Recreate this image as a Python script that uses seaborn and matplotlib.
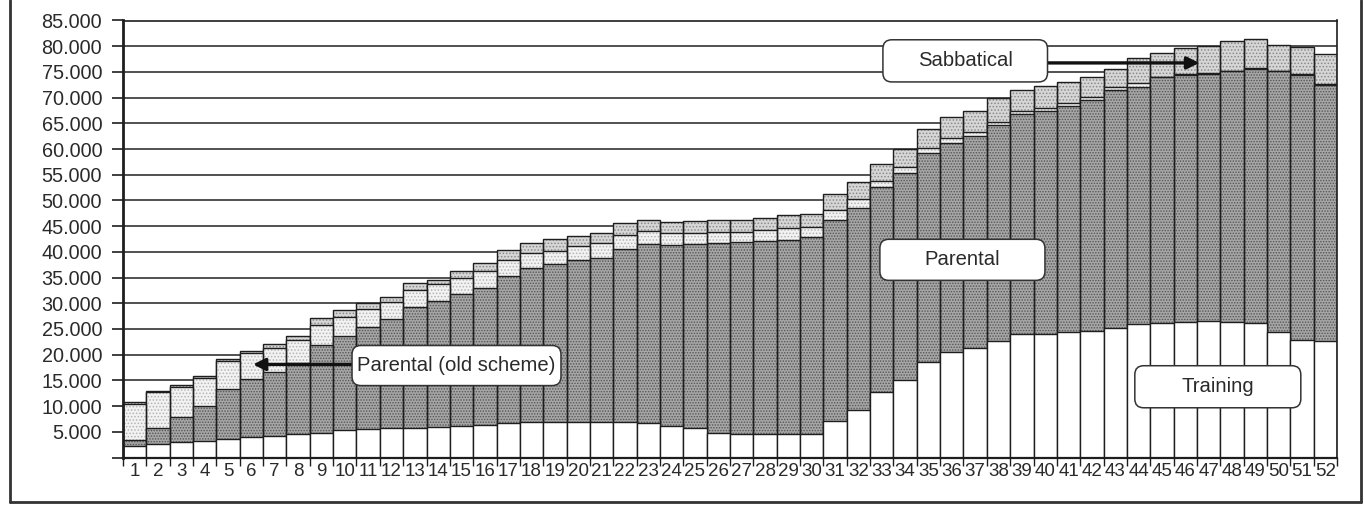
import numpy as np
import pandas as pd
import matplotlib
matplotlib.use("Agg")
import matplotlib.pyplot as plt
import seaborn as sns
from matplotlib.patches import FancyBboxPatch
from matplotlib.lines import Line2D

# Weeks on the x axis
weeks = [str(i) for i in range(1, 53)]

# Leave taken per week, split by scheme (stacked bottom to top)
training = [2200, 2700, 3000, 3250, 3650, 3900, 4150, 4500, 4800, 5300,
            5450, 5800, 5800, 5850, 6200, 6350, 6650, 7000, 7000, 7000,
            7000, 6900, 6650, 6200, 5750, 4850, 4650, 4500, 4650, 4650,
            7150, 9300, 12700, 15000, 18550, 20500, 21350, 22600, 24000, 24000,
            24350, 24650, 25250, 25900, 26200, 26400, 26600, 26400, 26200, 24350,
            22850, 22650]
parental = [1300, 3100, 4900, 6750, 9750, 11400, 12550, 13800, 17100, 18300,
            19850, 21100, 23550, 24650, 25600, 26600, 28700, 29950, 30700, 31450,
            31900, 33700, 34800, 35150, 35800, 36850, 37250, 37600, 37650, 38300,
            39050, 39300, 39850, 40300, 40650, 40750, 41100, 42100, 42800, 43300,
            44100, 44900, 46250, 46250, 47800, 48050, 48050, 48700, 49350, 50750,
            51600, 49850]
parental_old = [7000, 6850, 5850, 5400, 5350, 5100, 4650, 4500, 3800, 3800,
                3600, 3350, 3300, 3200, 3200, 3250, 3150, 2850, 2550, 2650,
                2750, 2600, 2700, 2350, 2150, 2100, 2050, 2150, 2300, 1950,
                1850, 1650, 1250, 1300, 950, 850, 850, 650, 650, 650,
                450, 500, 550, 650, 100, 100, 100, 100, 200, 100,
                100, 100]
sabbatical = [250, 350, 400, 450, 450, 400, 700, 900, 1400, 1200,
              1100, 1050, 1300, 850, 1350, 1600, 1850, 1900, 2200, 1900,
              1950, 2400, 2100, 2150, 2250, 2400, 2250, 2300, 2600, 2500,
              3150, 3300, 3250, 3450, 3700, 4050, 4000, 4550, 4050, 4400,
              4100, 4000, 3550, 4900, 4550, 5100, 5200, 5750, 5650, 4950,
              5200, 5850]

y_ticks = list(range(0, 85001, 5000))
y_tick_labels = [""] + [f"{v // 1000}.000" for v in y_ticks[1:]]

df = pd.DataFrame({
    "week": weeks,
    "training": training,
    "parental": parental,
    "parental_old": parental_old,
    "sabbatical": sabbatical,
})
df["top_training"] = df["training"]
df["top_parental"] = df["top_training"] + df["parental"]
df["top_old"] = df["top_parental"] + df["parental_old"]
df["top_sabbatical"] = df["top_old"] + df["sabbatical"]

sns.set_theme(style="white")
plt.rcParams["font.family"] = ["Liberation Sans", "DejaVu Sans"]
plt.rcParams["hatch.linewidth"] = 0.7

ink = "#1e1e1e"
W, H = 1364, 505
fig = plt.figure(figsize=(W / 100, H / 100), dpi=100)
ax = fig.add_axes([123 / W, 47.5 / H, 1214 / W, 437 / H])

# Cumulative layers drawn tallest first so each lower layer covers the one above.
# Each layer: fill colour, stipple dot colour, stipple pattern.
layers = [
    ("top_sabbatical", "#d6d6d6", "#8a8a8a", "....."),
    ("top_old", "#f2f2f2", "#b4b4b4", "....."),
    ("top_parental", "#a6a6a6", "#555555", "......"),
    ("top_training", "#ffffff", None, None),
]
for col, face, dots, pattern in layers:
    if pattern is not None:
        # stippled fill
        sns.barplot(data=df, x="week", y=col, order=weeks, color=face,
                    saturation=1, width=1.0, edgecolor=dots, linewidth=0,
                    hatch=pattern, errorbar=None, ax=ax, zorder=2)
        face = "none"
    # outlines (and the plain white fill for training)
    sns.barplot(data=df, x="week", y=col, order=weeks, color="white",
                saturation=1, width=1.0, edgecolor=ink, linewidth=1.0,
                errorbar=None, ax=ax, zorder=2, facecolor=face)

ax.set_xlim(-0.5, len(weeks) - 0.5)
ax.set_ylim(0, 85000)
ax.set_xlabel("")
ax.set_ylabel("")

# Horizontal gridlines behind the bars
ax.set_axisbelow(True)
ax.set_yticks(y_ticks)
ax.set_yticklabels(y_tick_labels, fontsize=14.3, color="#2a2a2a")
ax.yaxis.grid(True, color="#333333", linewidth=1.2)
ax.xaxis.grid(False)

# Week labels centred under the bars, tick marks on the bar edges
ax.set_xticks(range(len(weeks)))
ax.set_xticklabels(weeks, fontsize=13.5, color="#2a2a2a")
for lbl in ax.get_xticklabels():
    lbl.set_transform(lbl.get_transform())
    lbl.set_stretch("condensed")
ax.set_xticks(np.arange(-0.5, len(weeks), 1.0), minor=True)
ax.tick_params(axis="x", which="major", bottom=True, length=0, pad=4)
ax.tick_params(axis="x", which="minor", bottom=True, length=6, width=1.0,
               color=ink, direction="out")
ax.tick_params(axis="y", which="major", left=True, length=8, width=1.2,
               color=ink, direction="out", pad=7)

for side in ["left", "right", "top", "bottom"]:
    ax.spines[side].set_visible(True)
    ax.spines[side].set_color(ink)
    ax.spines[side].set_linewidth(1.2)
ax.spines["left"].set_linewidth(2.0)
ax.spines["bottom"].set_linewidth(1.6)

# Rounded label boxes (equal corner radius in pixels)
px_x = ax.get_window_extent().width / len(weeks)
px_y = ax.get_window_extent().height / 85000
aspect = px_x / px_y


def label_box(x0, x1, y0, y1, text):
    box = FancyBboxPatch((x0, y0), x1 - x0, y1 - y0,
                         boxstyle="round,pad=0,rounding_size=0.38",
                         mutation_aspect=aspect, facecolor="white",
                         edgecolor="#333333", linewidth=1.1, zorder=6)
    ax.add_patch(box)
    ax.text((x0 + x1) / 2, (y0 + y1) / 2, text, ha="center", va="center",
            fontsize=14.6, color="#2a2a2a", zorder=7)


def arrow(x_from, x_to, y):
    ax.annotate("", xy=(x_to, y), xytext=(x_from, y),
                arrowprops=dict(arrowstyle="-|>", color="#111111", lw=2.4,
                                mutation_scale=18, shrinkA=0, shrinkB=0),
                zorder=5)


arrow(39.1, 45.6, 76750)
label_box(32.05, 39.1, 73050, 81250, "Sabbatical")

arrow(9.31, 5.07, 18100)
label_box(9.31, 18.26, 13990, 21780, "Parental (old scheme)")

label_box(31.92, 38.99, 34460, 42440, "Parental")
label_box(42.84, 49.95, 9670, 17850, "Training")

# Outer frame on the left, right and bottom
frame_kw = dict(color="#333333", linewidth=2.0, transform=fig.transFigure)
fig.add_artist(Line2D([10 / W, 10 / W], [3 / H, 1.0], **frame_kw))
fig.add_artist(Line2D([1361 / W, 1361 / W], [3 / H, 1.0], **frame_kw))
fig.add_artist(Line2D([10 / W, 1361 / W], [3 / H, 3 / H], **frame_kw))

fig.savefig("out.png", dpi=100)
